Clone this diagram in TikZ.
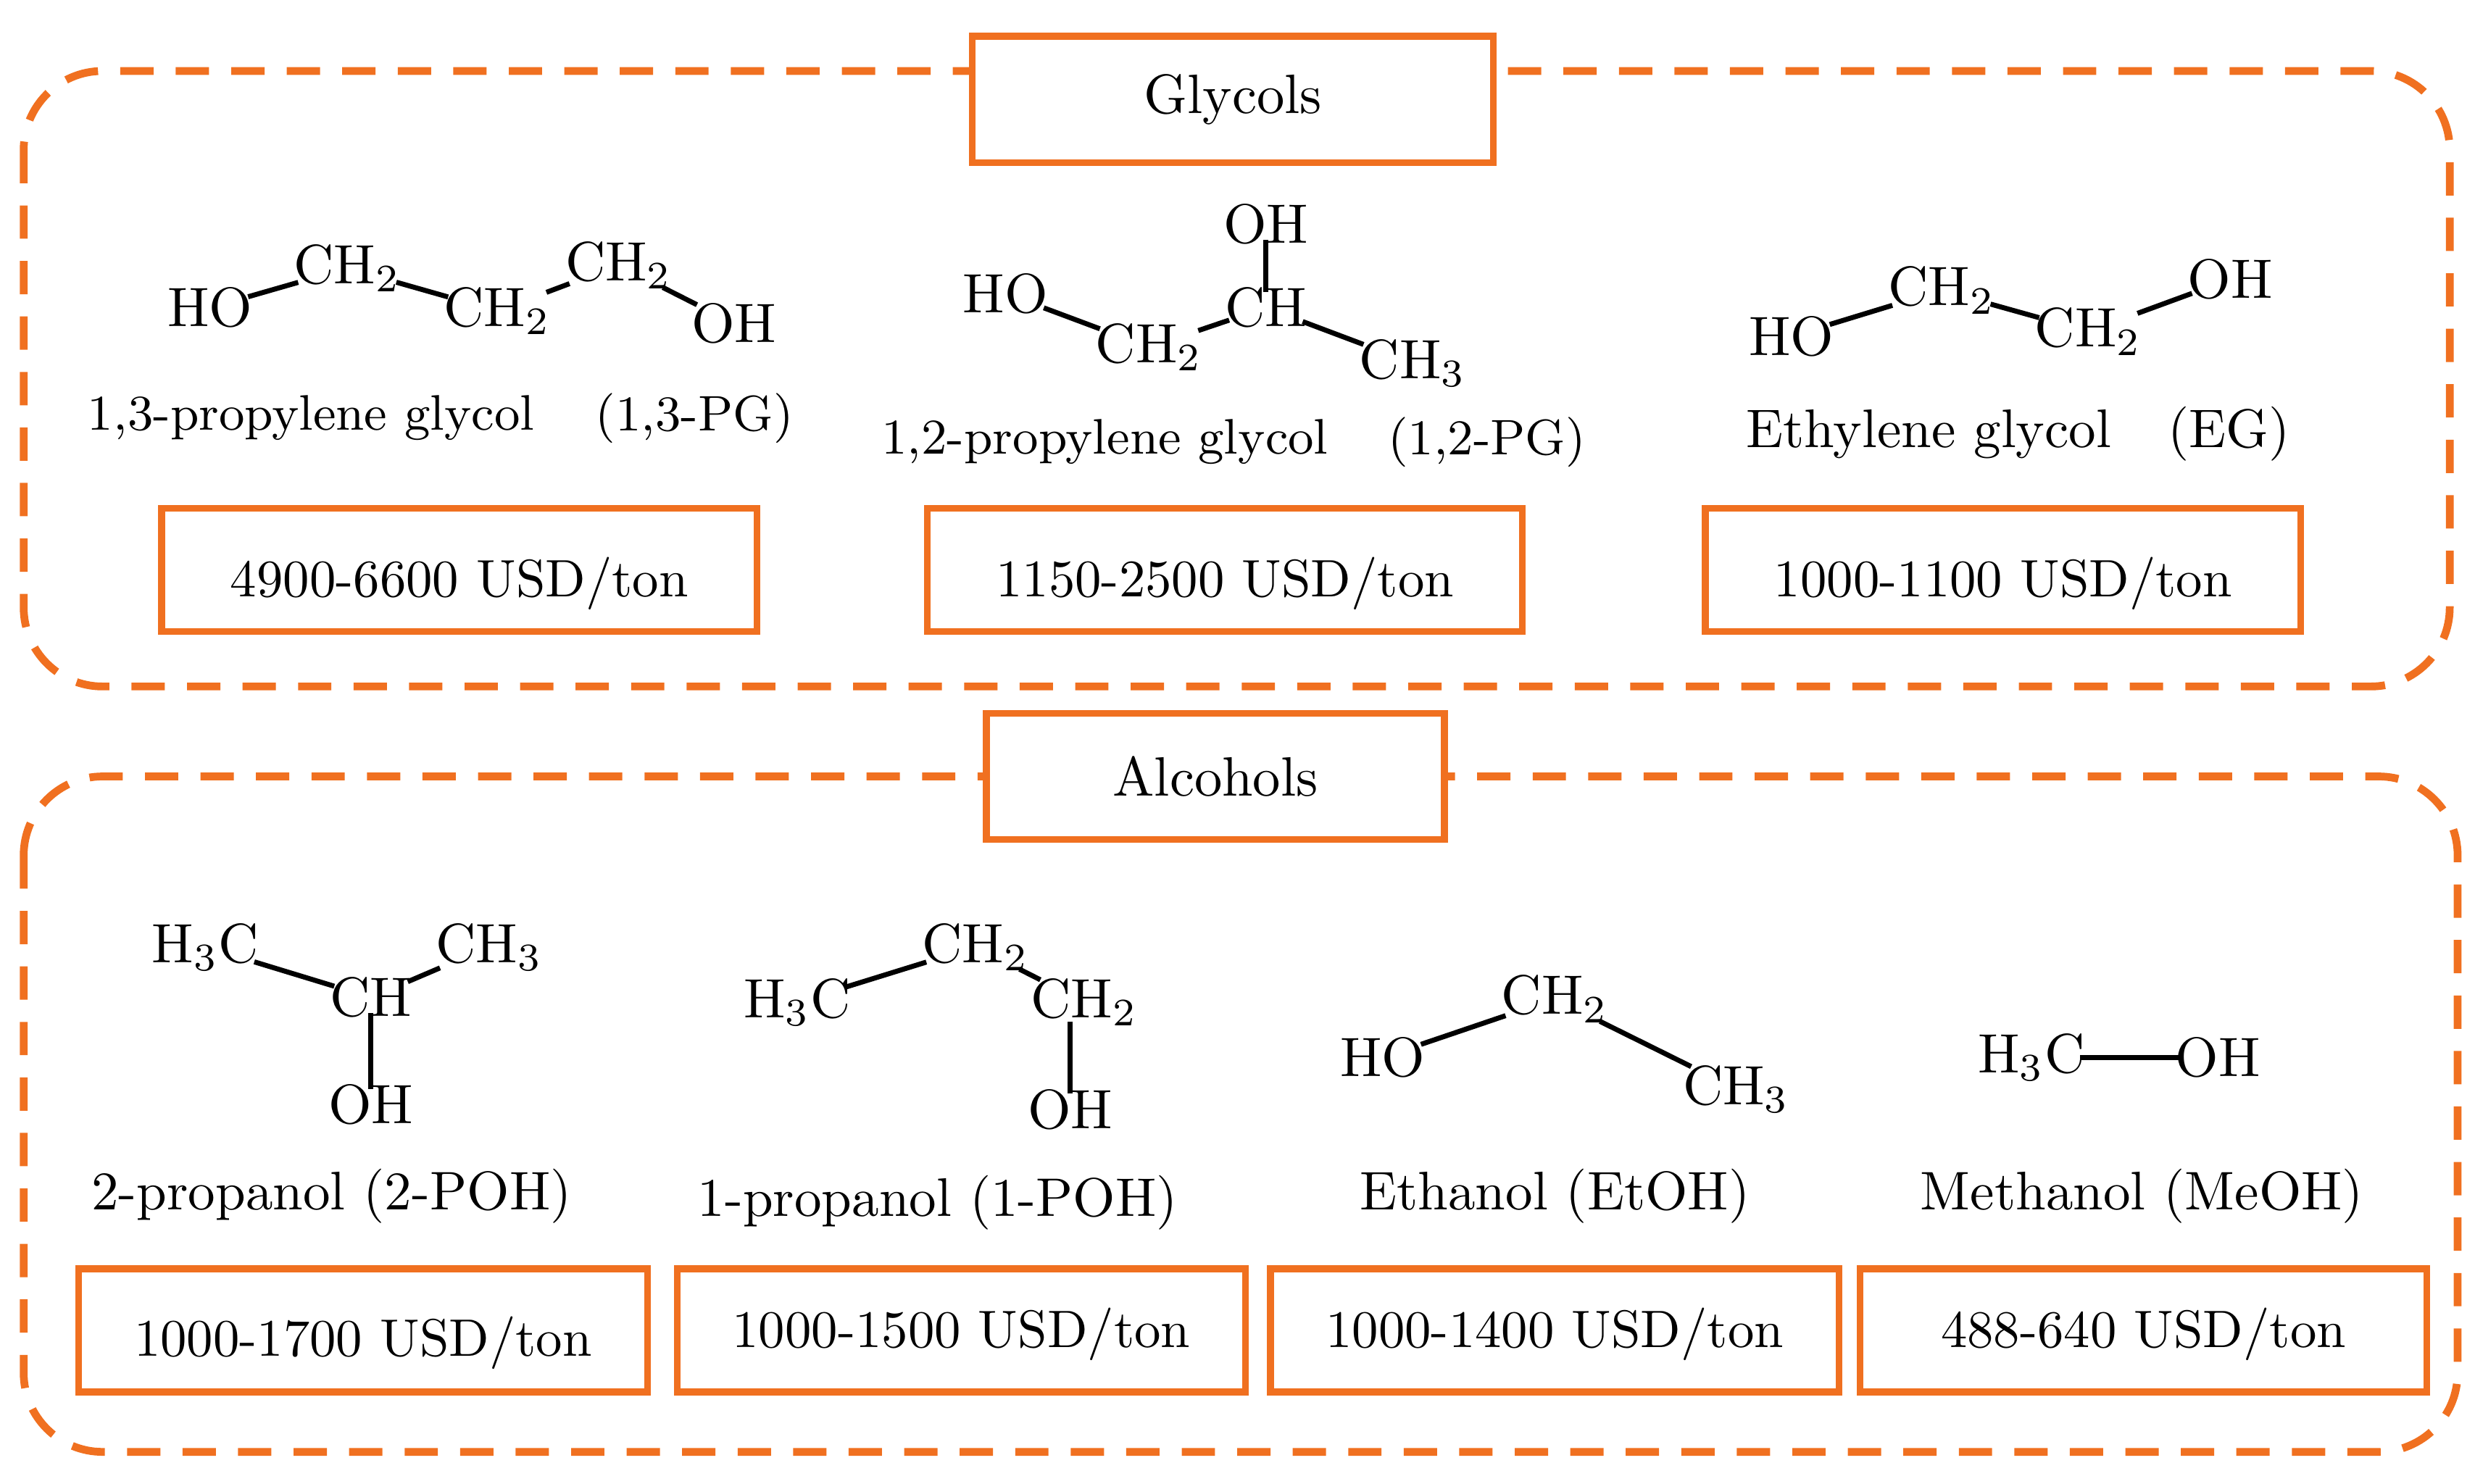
\documentclass[tikz,border=0pt]{standalone}
\usepackage{tikz}
\definecolor{org}{RGB}{240,112,32}
\begin{document}
\begin{tikzpicture}[x=0.01cm,y=-0.01cm,
  grp/.style={draw=org,line width=1.4pt,dashed,dash pattern=on 6pt off 4pt,rounded corners=0.5cm},
  lab/.style={draw=org,fill=white,line width=1.2pt,minimum height=0.8cm,font=\fontsize{10}{12}\selectfont},
  price/.style={draw=org,line width=1.2pt,minimum height=0.78cm,text depth=0.25ex,font=\fontsize{9.5}{12}\selectfont},
  atm/.style={inner sep=0pt,font=\fontsize{10}{12}\selectfont},
  nm/.style={inner sep=1pt,font=\fontsize{9}{11}\selectfont},
  nm2/.style={inner sep=1pt,font=\fontsize{9.8}{12}\selectfont},
  bond/.style={line width=0.9pt,shorten <=-1pt,shorten >=-1pt}]
\useasboundingbox (0,0) rectangle (1568,940);
% groups
\draw[grp] (15,45) rectangle (1552,435);
\draw[grp] (15,492) rectangle (1557,920);
\node[lab,minimum width=3.3cm] (glyc) at (781,63) {Glycols};
\node[lab,minimum width=2.9cm] (alc) at (770,492) {Alcohols};
% prices
\node[price,minimum width=3.77cm] (p1) at (291,361) {\raisebox{-0.9ex}{4900-6600 USD/ton}};
\node[price,minimum width=3.77cm] (p2) at (776,361) {\raisebox{-0.9ex}{1150-2500 USD/ton}};
\node[price,minimum width=3.77cm] (p3) at (1269,361) {\raisebox{-0.9ex}{1000-1100 USD/ton}};
\node[price,minimum width=3.6cm] (p4) at (230,843) {\raisebox{-0.8ex}{1000-1700 USD/ton}};
\node[price,minimum width=3.6cm] (p5) at (609,843) {1000-1500 USD/ton};
\node[price,minimum width=3.6cm] (p6) at (985,843) {1000-1400 USD/ton};
\node[price,minimum width=3.59cm] (p7) at (1358,843) {488-640 USD/ton};
% 1,3-PG
\node[atm] (a1) at (133,195) {HO};
\node[atm] (a2) at (220,170) {CH$_2$};
\node[atm] (a3) at (315,197) {CH$_2$};
\node[atm] (a4) at (392,168) {CH$_2$};
\node[atm] (a5) at (465,205) {OH};
\draw[bond] (a1) -- (a2); \draw[bond] (a2) -- (a3); \draw[bond] (a3) -- (a4); \draw[bond] (a4) -- (a5);
\node[nm] (n1) at (197,265) {1,3-propylene glycol};
\node[nm] (n1b) at (440,265) {(1,3-PG)};
% 1,2-PG
\node[atm] (b1) at (637,186) {HO};
\node[atm] (b2) at (728,220) {CH$_2$};
\node[atm] (b3) at (802,195) {CH};
\node[atm] (b4) at (802,142) {OH};
\node[atm] (b5) at (895,230) {CH$_3$};
\draw[bond] (b1) -- (b2); \draw[bond] (b2) -- (b3); \draw[bond] (b3) -- (b4); \draw[bond] (b3) -- (b5);
\node[nm] (n2) at (700,280) {1,2-propylene glycol};
\node[nm] (n2b) at (942,280) {(1,2-PG)};
% EG
\node[atm] (c1) at (1135,213) {HO};
\node[atm] (c2) at (1230,184) {CH$_2$};
\node[atm] (c3) at (1323,210) {CH$_2$};
\node[atm] (c4) at (1413,177) {OH};
\draw[bond] (c1) -- (c2); \draw[bond] (c2) -- (c3); \draw[bond] (c3) -- (c4);
\node[nm2] (n3) at (1222,275) {Ethylene glycol};
\node[nm2] (n3b) at (1412,275) {(EG)};
% 2-POH
\node[atm] (d1) at (130,600) {H$_3$C};
\node[atm] (d2) at (310,600) {CH$_3$};
\node[atm] (d3) at (235,632) {CH};
\node[atm] (d4) at (235,700) {OH};
\draw[bond] (d1) -- (d3); \draw[bond] (d3) -- (d2); \draw[bond] (d3) -- (d4);
\node[nm2] (n4) at (210,758) {2-propanol (2-POH)};
% 1-POH
\node[atm] (e1) at (505,635) {H$_3$C};
\node[atm] (e2) at (618,600) {CH$_2$};
\node[atm] (e3) at (687,635) {CH$_2$};
\node[atm] (e4) at (678,703) {OH};
\draw[bond] (e1) -- (e2); \draw[bond] (e2) -- (e3); \draw[bond] (e3.south -| e4) -- (e4);
\node[nm2] (n5) at (594,762) {1-propanol (1-POH)};
% EtOH
\node[atm] (f1) at (876,670) {HO};
\node[atm] (f2) at (985,633) {CH$_2$};
\node[atm] (f3) at (1100,690) {CH$_3$};
\draw[bond] (f1) -- (f2); \draw[bond] (f2) -- (f3);
\node[nm2] (n6) at (985,758) {Ethanol (EtOH)};
% MeOH
\node[atm] (g1) at (1287,670) {H$_3$C};
\node[atm] (g2) at (1405,670) {OH};
\draw[bond] (g1) -- (g2);
\node[nm2] (n7) at (1357,758) {Methanol (MeOH)};
\end{tikzpicture}
\end{document}
